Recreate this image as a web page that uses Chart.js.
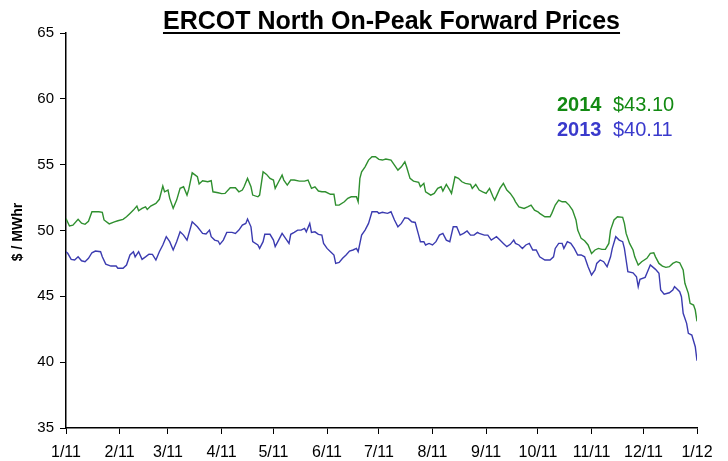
<!DOCTYPE html>
<html>
<head>
<meta charset="utf-8">
<script src="https://cdn.jsdelivr.net/npm/chart.js@4"></script>
<style>
  html, body { margin: 0; padding: 0; background: #fff; }
  #wrap { width: 728px; height: 461px; }
</style>
</head>
<body>
<div id="wrap"><canvas id="c" width="728" height="461"></canvas></div>
<script>
// Day offsets from 1/1/2011 for each reading, and prices ($/MWhr)
const days2014 = [0,2,4,7,9,11,13,15,19,21,22,25,28,30,33,35,37,39,41,42,44,46,47,49,52,54,56,57,59,60,62,64,66,68,70,71,73,76,77,79,82,84,85,88,90,92,95,98,100,102,103,105,107,108,111,112,114,116,118,120,121,123,125,126,128,130,132,135,138,140,142,144,146,148,150,153,155,156,158,161,163,165,168,169,170,171,173,175,177,179,181,183,185,188,190,192,194,196,197,199,201,204,205,207,208,211,213,215,217,218,220,222,223,225,227,229,231,234,235,237,239,241,243,245,247,248,251,253,255,257,259,260,262,265,267,269,271,273,274,277,280,281,283,285,287,289,291,293,295,296,298,300,302,304,306,308,310,312,314,315,317,319,322,323,324,326,328,329,331,333,336,338,340,341,343,345,347,349,351,353,355,357,358,360,361,363,364,365];
const price2014 = [50.9,50.34,50.4,50.85,50.55,50.47,50.7,51.42,51.42,51.38,50.8,50.5,50.66,50.74,50.85,51.04,51.3,51.55,51.86,51.5,51.68,51.8,51.6,51.86,52.06,52.37,53.38,52.94,53.07,52.44,51.68,52.31,53.2,53.32,52.69,53.12,54.38,54.08,53.53,53.78,53.7,53.78,52.94,52.87,52.8,52.82,53.25,53.25,52.94,53.07,53.32,53.96,53.32,52.69,52.56,52.69,54.46,54.26,53.96,53.83,53.2,53.7,54.21,53.83,53.45,53.83,53.83,53.75,53.75,53.83,53.2,53.32,53.0,52.94,52.94,52.75,52.75,51.93,51.93,52.18,52.44,52.56,52.56,52.18,53.96,54.46,54.84,55.35,55.6,55.6,55.4,55.35,55.43,55.35,54.97,54.59,54.84,55.22,54.84,53.96,53.75,53.66,53.32,53.58,52.94,52.69,52.82,53.2,53.32,53.0,53.5,53.07,52.82,54.08,53.96,53.7,53.58,53.5,53.2,53.5,53.07,52.94,52.82,53.2,52.56,52.31,53.2,53.58,53.07,52.82,52.44,52.18,51.8,51.68,51.8,51.93,51.55,51.42,51.3,51.04,51.04,51.3,51.93,52.31,52.18,52.18,51.93,51.55,50.8,50.03,49.4,49.22,48.9,48.26,48.52,48.64,48.57,48.57,49.02,50.03,50.8,51.04,51.0,50.54,49.78,49.02,48.52,48.0,47.38,47.63,47.89,48.26,48.31,48.0,47.5,47.3,47.2,47.25,47.5,47.63,47.55,47.0,45.99,45.23,44.47,44.34,43.96,43.1];

const days2013 = [0,1,3,5,7,9,11,13,15,17,20,21,23,26,29,30,33,35,37,39,40,42,44,46,48,50,52,54,56,58,60,62,64,66,68,70,73,76,79,81,83,84,86,88,89,91,93,96,98,100,102,104,105,107,108,111,112,114,115,118,120,121,123,125,127,129,130,132,134,136,138,139,141,142,144,146,148,149,151,153,155,156,158,160,162,164,166,168,169,171,173,175,177,180,181,183,186,188,190,192,194,196,198,200,202,204,205,207,208,210,212,214,216,218,220,222,224,226,228,230,232,234,236,238,239,242,244,246,249,251,253,255,257,259,260,262,264,266,268,270,272,274,277,280,282,283,285,287,288,290,292,294,296,298,300,302,304,306,307,309,311,313,315,316,318,320,322,323,324,325,328,330,331,332,335,336,338,341,343,344,346,349,351,352,353,355,356,357,359,360,362,364,365];
const price2013 = [48.39,48.27,47.81,47.76,48.0,47.7,47.63,47.89,48.31,48.44,48.39,48.0,47.45,47.3,47.3,47.13,47.13,47.38,48.14,48.39,48.0,48.39,47.81,48.0,48.2,48.19,47.76,48.39,48.9,49.53,49.15,48.52,49.15,49.9,49.65,49.27,50.66,50.28,49.78,49.73,50.03,49.53,49.27,49.2,48.95,49.27,49.86,49.86,49.78,50.03,50.41,50.54,50.87,50.28,49.15,48.9,48.64,49.15,49.71,49.71,49.27,48.77,49.27,49.78,49.4,49.02,49.71,49.86,50.03,50.03,50.16,49.9,50.54,49.86,49.9,49.71,49.65,49.02,48.64,48.39,48.14,47.5,47.58,47.89,48.14,48.44,48.52,48.64,48.39,49.65,50.03,50.54,51.42,51.42,51.3,51.38,51.3,51.42,50.8,50.28,50.54,50.97,50.92,50.66,50.61,49.65,49.15,49.15,48.9,49.02,48.9,49.15,49.65,49.78,49.27,49.15,50.28,50.28,49.65,49.78,49.96,49.65,49.65,49.86,49.78,49.65,49.65,49.27,49.53,49.27,49.02,48.77,48.95,49.27,49.02,48.9,48.64,48.9,49.02,48.52,48.52,48.0,47.76,47.76,48.0,48.64,49.02,49.02,48.64,49.15,49.02,48.64,48.14,48.14,48.0,47.25,46.62,47.0,47.5,47.76,47.63,47.25,48.0,48.64,49.53,49.27,49.15,48.64,47.76,46.87,46.79,46.49,45.73,46.29,46.44,46.75,47.38,47.05,46.75,45.48,45.17,45.27,45.48,45.73,45.61,45.35,44.97,43.71,42.95,42.19,42.06,41.17,40.11];

const monthDays = [0,31,59,90,120,151,181,212,243,273,304,334,365];
const monthLabels = ['1/11','2/11','3/11','4/11','5/11','6/11','7/11','8/11','9/11','10/11','11/11','12/11','1/12'];

const titleText = 'ERCOT North On-Peak Forward Prices';
const yTitle = '$ / MWhr';
const legendItems = [
  { year: '2014', value: '$43.10', color: '#138a13' },
  { year: '2013', value: '$40.11', color: '#3a3acc' }
];

const FONT = "'Liberation Sans', Arial, sans-serif";

const decor = {
  id: 'decor',
  afterDraw(chart) {
    const ctx = chart.ctx;
    const ca = chart.chartArea;
    ctx.save();
    // Title with underline
    ctx.font = 'bold 25px ' + FONT;
    ctx.fillStyle = '#000';
    ctx.textAlign = 'center';
    ctx.textBaseline = 'alphabetic';
    const tx = (ca.left + ca.right) / 2 + 10;
    const ty = ca.top - 4;
    ctx.fillText(titleText, tx, ty);
    const tw = ctx.measureText(titleText).width;
    ctx.fillRect(tx - tw / 2, ty + 3, tw, 2);

    // Y axis title
    ctx.save();
    ctx.translate(18, 232);
    ctx.rotate(-Math.PI / 2);
    ctx.font = 'bold 14px ' + FONT;
    ctx.textAlign = 'center';
    ctx.textBaseline = 'middle';
    ctx.fillText(yTitle, 0, 0);
    ctx.restore();

    // Legend text
    ctx.textAlign = 'left';
    ctx.textBaseline = 'alphabetic';
    legendItems.forEach((it, i) => {
      const y = ca.top + 78 + i * 25;
      const x = ca.left + 491;
      ctx.fillStyle = it.color;
      ctx.font = 'bold 20px ' + FONT;
      ctx.fillText(it.year, x, y);
      ctx.font = '20px ' + FONT;
      ctx.fillText(it.value, x + 56, y);
    });
    ctx.restore();
  }
};

new Chart(document.getElementById('c'), {
  type: 'line',
  data: {
    datasets: [
      {
        label: '2014',
        data: days2014.map((d, i) => ({ x: d, y: price2014[i] })),
        borderColor: '#2f8f2f',
        borderWidth: 1.4,
        pointRadius: 0,
        tension: 0,
        fill: false
      },
      {
        label: '2013',
        data: days2013.map((d, i) => ({ x: d, y: price2013[i] })),
        borderColor: '#3b3bb0',
        borderWidth: 1.4,
        pointRadius: 0,
        tension: 0,
        fill: false
      }
    ]
  },
  options: {
    responsive: false,
    devicePixelRatio: 1,
    animation: false,
    layout: { padding: { left: 0, right: 31, top: 33, bottom: 0 } },
    plugins: {
      legend: { display: false },
      title: { display: false },
      tooltip: { enabled: false }
    },
    scales: {
      x: {
        type: 'linear',
        min: 0,
        max: 365,
        afterBuildTicks(scale) {
          scale.ticks = monthDays.map(v => ({ value: v }));
        },
        afterFit(scale) { scale.height = 33; },
        ticks: {
          autoSkip: false,
          maxRotation: 0,
          padding: 9,
          color: '#000',
          font: { family: FONT, size: 16 },
          callback(value) {
            const i = monthDays.indexOf(value);
            return i >= 0 ? monthLabels[i] : '';
          }
        },
        grid: { drawOnChartArea: false, drawTicks: true, tickLength: 6, color: '#000', lineWidth: 1 },
        border: { color: '#000', width: 1.5 }
      },
      y: {
        min: 35,
        max: 65,
        afterFit(scale) { scale.width = 66; },
        ticks: {
          stepSize: 5,
          padding: 6,
          color: '#000',
          font: { family: FONT, size: 15 }
        },
        grid: { drawOnChartArea: false, drawTicks: true, tickLength: 6, color: '#000', lineWidth: 1 },
        border: { color: '#000', width: 1.5 }
      }
    }
  },
  plugins: [decor]
});
</script>
</body>
</html>
